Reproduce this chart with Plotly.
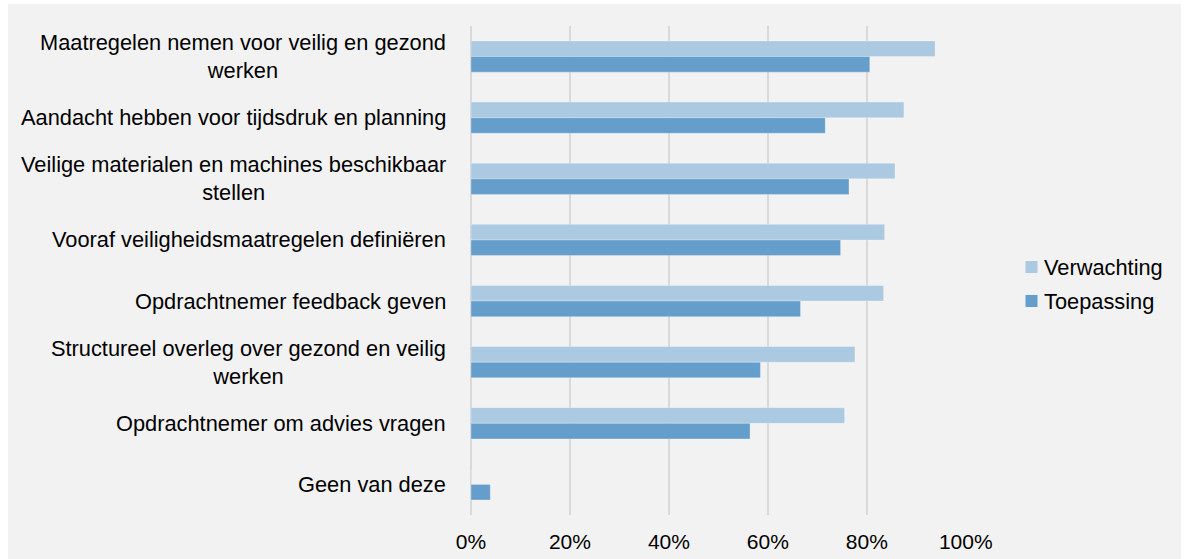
import plotly.graph_objects as go

categories = [
    "Maatregelen nemen voor veilig en gezond<br>werken",
    "Aandacht hebben voor tijdsdruk en planning",
    "Veilige materialen en machines beschikbaar<br>stellen",
    "Vooraf veiligheidsmaatregelen definiëren",
    "Opdrachtnemer feedback geven",
    "Structureel overleg over gezond en veilig<br>werken",
    "Opdrachtnemer om advies vragen",
    "Geen van deze",
]
series_names = ["Verwachting", "Toepassing"]
verwachting = [93.8, 87.5, 85.7, 83.6, 83.4, 77.6, 75.5, 0]
toepassing = [80.6, 71.6, 76.4, 74.7, 66.6, 58.5, 56.4, 3.9]
x_ticks = [0, 20, 40, 60, 80, 100]
x_ticklabels = ["0%", "20%", "40%", "60%", "80%", "100%"]

FONT = "Liberation Sans, Arial, sans-serif"
colors = ["#abc9e1", "#669ecb"]
LABEL_SIZE = 21.8

W, H = 1185, 567
L, R, T, B = 471, 219, 26, 52
PW, PH = W - L - R, H - T - B


def px2x(px):
    return (px - L) / PW


def px2y(py):
    return (H - B - py) / PH


fig = go.Figure()
for name, vals, col in zip(series_names, [verwachting, toepassing], colors):
    fig.add_trace(go.Bar(
        y=categories, x=vals, name=name, orientation="h",
        marker=dict(color=col, line=dict(color="rgba(255,255,255,0.35)", width=0.8)),
        showlegend=False,
    ))

# category labels, wrapped lines centred
annotations = []
for cat in categories:
    annotations.append(dict(
        x=px2x(448), xref="paper", y=cat, yref="y",
        text=cat, showarrow=False, xanchor="right", yanchor="middle",
        align="center",
        font=dict(family=FONT, size=LABEL_SIZE, color="#000000"),
    ))

shapes = [dict(
    type="rect", xref="paper", yref="paper",
    x0=px2x(8), x1=px2x(1181), y0=px2y(H), y1=px2y(4),
    fillcolor="#f2f2f2", line=dict(width=0), layer="below",
)]

# legend
legend_y = [267, 301]
for name, col, ly in zip(series_names, colors, legend_y):
    shapes.append(dict(
        type="rect", xref="paper", yref="paper",
        x0=px2x(1025.5), x1=px2x(1037.5), y0=px2y(ly + 6), y1=px2y(ly - 6),
        fillcolor=col, line=dict(width=0),
    ))
    annotations.append(dict(
        x=px2x(1042), xref="paper", y=px2y(ly + 0.5), yref="paper",
        text=name, showarrow=False, xanchor="left", yanchor="middle",
        font=dict(family=FONT, size=LABEL_SIZE, color="#000000"),
    ))

fig.update_layout(
    width=W, height=H,
    margin=dict(l=L, r=R, t=T, b=B, pad=0),
    paper_bgcolor="#ffffff",
    plot_bgcolor="#f2f2f2",
    barmode="group",
    bargap=0.49,
    bargroupgap=0,
    font=dict(family=FONT, size=21, color="#000000"),
    showlegend=False,
    annotations=annotations,
    shapes=shapes,
    xaxis=dict(
        range=[0, 100.05], tickvals=x_ticks, ticktext=x_ticklabels,
        showgrid=True, gridcolor="#d9d9d9", gridwidth=1.5,
        zeroline=True, zerolinecolor="#d9d9d9", zerolinewidth=1.5,
        showline=False, ticks="", ticklabelstandoff=12,
        tickfont=dict(family=FONT, size=21, color="#000000"),
        fixedrange=True,
    ),
    yaxis=dict(
        autorange="reversed", showticklabels=False, showgrid=False,
        zeroline=False, showline=False, ticks="", fixedrange=True,
    ),
)

fig.write_html(
    "out.html",
    config={"displayModeBar": False},
    post_script="document.body.style.margin='0';document.body.style.overflow='hidden';",
)
